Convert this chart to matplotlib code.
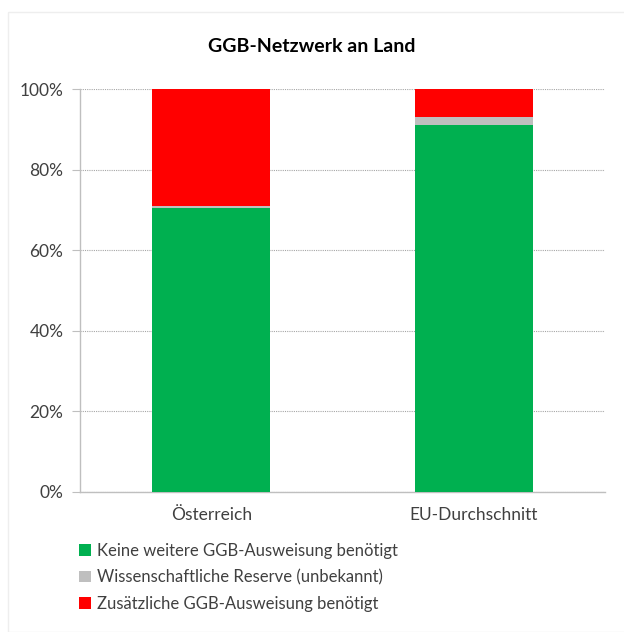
import matplotlib
matplotlib.use("Agg")
import matplotlib.pyplot as plt
from matplotlib.patches import Patch, Rectangle
import numpy as np

categories = ["Österreich", "EU-Durchschnitt"]
keine = [70.5, 91.0]
reserve = [0.5, 2.0]
zusaetzlich = [29.0, 7.0]
series_labels = ["Keine weitere GGB-Ausweisung benötigt",
                 "Wissenschaftliche Reserve (unbekannt)",
                 "Zusätzliche GGB-Ausweisung benötigt"]
colors = ["#00b050", "#bfbfbf", "#ff0000"]
yticks = [0, 20, 40, 60, 80, 100]
ytick_labels = ["0%", "20%", "40%", "60%", "80%", "100%"]
title = "GGB-Netzwerk an Land"

plt.rcParams['font.family'] = ['Lato', 'DejaVu Sans']

fig = plt.figure(figsize=(6.24, 6.32), dpi=100)
ax = fig.add_axes([80/624, 1-492/632, 525/624, 403/632])

x = np.arange(len(categories))
w = 0.45
bottom = np.zeros(len(categories))
for vals, col, lab in zip([keine, reserve, zusaetzlich], colors, series_labels):
    ax.bar(x, vals, w, bottom=bottom, color=col, label=lab, zorder=3)
    bottom += np.array(vals)

ax.set_xlim(-0.5, 1.5)
ax.set_ylim(0, 100)
ax.set_yticks(yticks)
ax.set_yticklabels(ytick_labels, fontsize=12.5, color="#404040")
ax.set_xticks(x)
ax.set_xticklabels(categories, fontsize=12.5, color="#404040")
ax.tick_params(axis='x', length=0, pad=11)
ax.tick_params(axis='y', length=6, color="#bfbfbf", pad=6)
ax.grid(axis='y', linestyle=(0, (1, 1)), color="#a6a6a6", linewidth=0.8, zorder=0)
for s in ["top", "right"]:
    ax.spines[s].set_visible(False)
for s in ["left", "bottom"]:
    ax.spines[s].set_color("#bfbfbf")
    ax.spines[s].set_linewidth(1.0)

fig.text(0.5, 1-47/632, title, ha='center', va='center', fontsize=14, fontweight='bold', color="#000000")

handles = [Patch(facecolor=c, edgecolor='none') for c in colors]
leg = fig.legend(handles, series_labels, loc='upper left', bbox_to_anchor=(79/624, 1-543/632),
                 frameon=False, fontsize=12, handlelength=0.7, handleheight=0.7,
                 handletextpad=0.4, labelspacing=0.62, borderaxespad=0, borderpad=0)
for t in leg.get_texts():
    t.set_color("#404040")

fig.patches.append(Rectangle((8/624, 0), 1, 1-12/632, transform=fig.transFigure,
                             fill=False, edgecolor="#eeeeee", linewidth=1))

fig.savefig("out.png", dpi=100)
